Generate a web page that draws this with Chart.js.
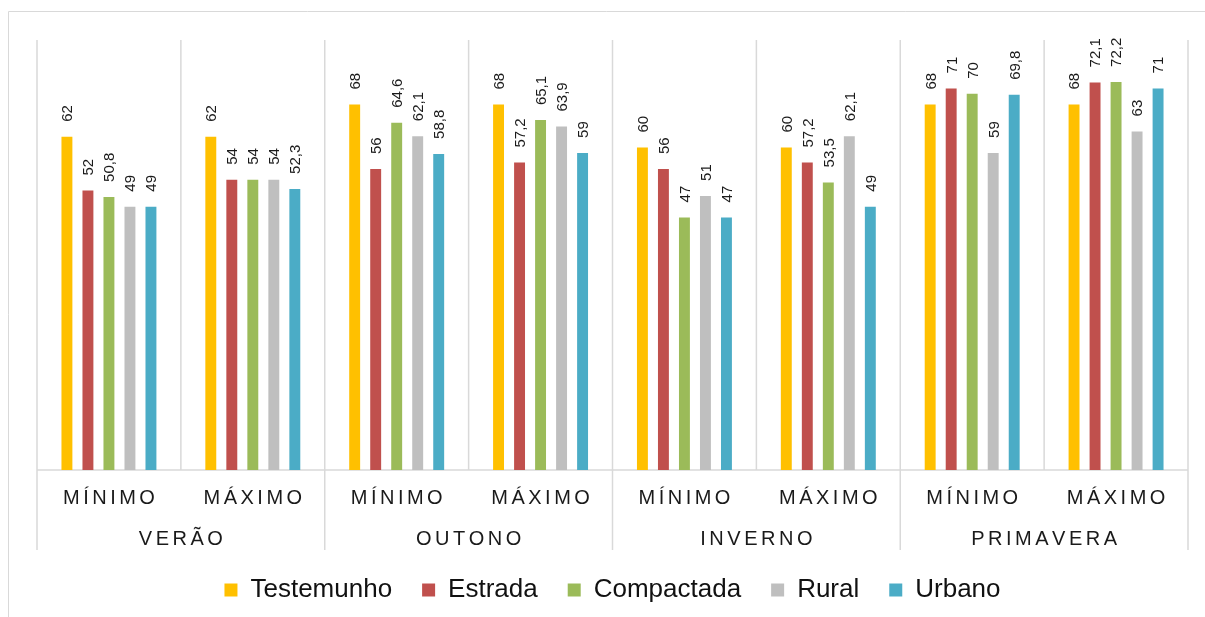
<!DOCTYPE html>
<html lang="pt">
<head>
  <meta charset="UTF-8">
  <title>Temperaturas por estação</title>
  <script src="https://cdn.jsdelivr.net/npm/chart.js"></script>
  <style>
    html, body { margin: 0; padding: 0; background: #fff; overflow: hidden; }
    canvas { display: block; }
  </style>
</head>
<body>
  <canvas id="chart" width="1205" height="617"></canvas>

  <script>
    // categorias (duas por estação) e estações
    const categorias = ['MÍNIMO', 'MÁXIMO', 'MÍNIMO', 'MÁXIMO', 'MÍNIMO', 'MÁXIMO', 'MÍNIMO', 'MÁXIMO'];
    const estacoes = ['VERÃO', 'OUTONO', 'INVERNO', 'PRIMAVERA'];

    const testemunho = [62, 62, 68, 68, 60, 60, 68, 68];
    const estrada    = [52, 54, 56, 57.2, 56, 57.2, 71, 72.1];
    const compactada = [50.8, 54, 64.6, 65.1, 47, 53.5, 70, 72.2];
    const rural      = [49, 54, 62.1, 63.9, 51, 62.1, 59, 63];
    const urbano     = [49, 52.3, 58.8, 59, 47, 49, 69.8, 71];

    const gridColor = '#d9d9d9';
    const textColor = '#1a1a1a';
    const fontFamily = '"Liberation Sans", Arial, sans-serif';

    function serie(label, data, color) {
      return {
        label: label,
        data: data,
        backgroundColor: color,
        borderWidth: 0,
        categoryPercentage: 0.73,
        barPercentage: 0.52
      };
    }

    // texto com espaçamento entre letras, centrado em x
    function spacedText(ctx, text, cx, y, spacing) {
      const chars = Array.from(text);
      let total = 0;
      const widths = chars.map(c => ctx.measureText(c).width);
      widths.forEach(w => total += w);
      total += spacing * (chars.length - 1);
      let x = cx - total / 2;
      ctx.textAlign = 'left';
      chars.forEach((c, i) => {
        ctx.fillText(c, x, y);
        x += widths[i] + spacing;
      });
    }

    // moldura, separadores e rótulos de dois níveis do eixo x
    const axisDecor = {
      id: 'axisDecor',
      beforeDraw(chart) {
        const ctx = chart.ctx;
        ctx.save();
        ctx.strokeStyle = gridColor;
        ctx.lineWidth = 1;
        ctx.beginPath();
        ctx.moveTo(8.5, 617);
        ctx.lineTo(8.5, 11.5);
        ctx.lineTo(1205, 11.5);
        ctx.stroke();
        ctx.restore();
      },
      beforeDatasetsDraw(chart) {
        const ctx = chart.ctx;
        const x = chart.scales.x;
        const area = chart.chartArea;
        const step = x.getPixelForValue(1) - x.getPixelForValue(0);
        ctx.save();
        ctx.strokeStyle = gridColor;
        ctx.lineWidth = 1.5;
        for (let i = 0; i <= categorias.length; i++) {
          const px = x.getPixelForValue(0) - step / 2 + i * step;
          const bottom = (i % 2 === 0) ? area.bottom + 80 : area.bottom;
          ctx.beginPath();
          ctx.moveTo(px, area.top);
          ctx.lineTo(px, bottom);
          ctx.stroke();
        }
        ctx.beginPath();
        ctx.moveTo(area.left, area.bottom);
        ctx.lineTo(area.right, area.bottom);
        ctx.stroke();

        ctx.fillStyle = textColor;
        ctx.textBaseline = 'alphabetic';
        ctx.font = '20px ' + fontFamily;
        categorias.forEach((c, i) => {
          spacedText(ctx, c, x.getPixelForValue(i), area.bottom + 34, 3.5);
        });
        estacoes.forEach((e, k) => {
          const cx = (x.getPixelForValue(2 * k) + x.getPixelForValue(2 * k + 1)) / 2;
          spacedText(ctx, e, cx, area.bottom + 75, 3.5);
        });
        ctx.restore();
      },
      // valores rodados por cima das barras
      afterDatasetsDraw(chart) {
        const ctx = chart.ctx;
        ctx.save();
        ctx.fillStyle = textColor;
        ctx.font = '15px ' + fontFamily;
        ctx.textAlign = 'left';
        ctx.textBaseline = 'alphabetic';
        const capHalf = 15 * 0.716 / 2;
        chart.data.datasets.forEach((ds, di) => {
          chart.getDatasetMeta(di).data.forEach((bar, i) => {
            const txt = String(ds.data[i]).replace('.', ',');
            ctx.save();
            ctx.translate(bar.x + capHalf, bar.y - 15);
            ctx.rotate(-Math.PI / 2);
            ctx.fillText(txt, 0, 0);
            ctx.restore();
          });
        });
        ctx.restore();
      }
    };

    new Chart(document.getElementById('chart').getContext('2d'), {
      type: 'bar',
      data: {
        labels: categorias,
        datasets: [
          serie('Testemunho', testemunho, '#FFC000'),
          serie('Estrada', estrada, '#C0504D'),
          serie('Compactada', compactada, '#9BBB59'),
          serie('Rural', rural, '#BFBFBF'),
          serie('Urbano', urbano, '#4BACC6')
        ]
      },
      options: {
        responsive: false,
        animation: false,
        layout: {
          padding: { left: 37, right: 17, top: 40, bottom: 4 }
        },
        scales: {
          x: {
            ticks: { display: false },
            grid: { display: false },
            border: { display: false },
            afterFit(scale) { scale.height = 77; }
          },
          y: {
            display: false,
            min: 0,
            max: 80
          }
        },
        plugins: {
          legend: {
            position: 'bottom',
            labels: {
              boxWidth: 13,
              boxHeight: 13,
              padding: 30,
              color: '#111',
              font: { size: 26, family: fontFamily }
            }
          },
          tooltip: { enabled: false }
        }
      },
      plugins: [axisDecor]
    });
  </script>
</body>
</html>
